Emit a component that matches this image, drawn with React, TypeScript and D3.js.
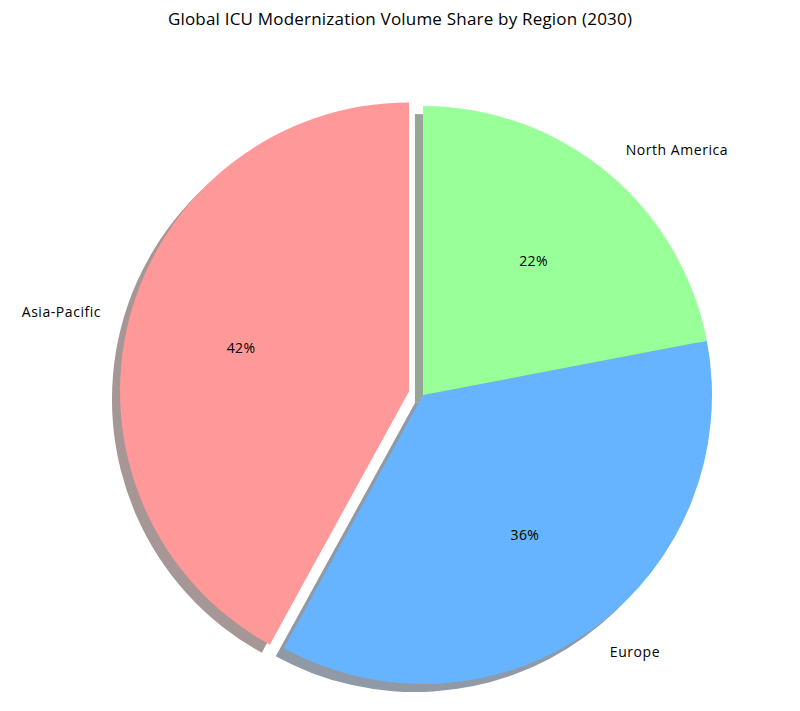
import React from "react";
import * as d3 from "d3";

const categories = ["Asia-Pacific", "Europe", "North America"];
const values = [42, 36, 22];
const colors = ["#ff9999", "#66b3ff", "#99ff99"];
const explode = [0.05, 0, 0];
const title = "Global ICU Modernization Volume Share by Region (2030)";

const W = 800;
const H = 711;
const cx = 423;
const cy = 395;
const R = 289;
const shadowOff = 0.0278 * R;
const FONT = "'Open Sans', Roboto, 'DejaVu Sans', sans-serif";

function shade(hex: string) {
  const c = d3.rgb(hex);
  return d3.rgb(c.r * 0.3, c.g * 0.3, c.b * 0.3).formatHex();
}

export default function App() {
  const pie = d3
    .pie<number>()
    .sort(null)
    .startAngle(0)
    .endAngle(-2 * Math.PI)(values);
  const arc = d3.arc<d3.PieArcDatum<number>>().innerRadius(0).outerRadius(R);

  const items = pie.map((p, i) => {
    const mid = (p.startAngle + p.endAngle) / 2;
    const ux = Math.sin(mid);
    const uy = -Math.cos(mid);
    const ox = cx + explode[i] * R * ux;
    const oy = cy + explode[i] * R * uy;
    return { p, i, ux, uy, ox, oy };
  });

  return (
    <svg width={W} height={H} style={{ display: "block", position: "absolute", left: 0, top: 0 }}>
      <rect width={W} height={H} fill="#ffffff" />
      <text x={400} y={25} textAnchor="middle" fontFamily={FONT} fontSize={17} letterSpacing={0.2} fill="#000">
        {title}
      </text>
      {items.map((d) => (
        <path
          key={"s" + d.i}
          d={arc(d.p) || ""}
          transform={`translate(${d.ox - shadowOff},${d.oy + shadowOff})`}
          fill={shade(colors[d.i])}
          fillOpacity={0.5}
        />
      ))}
      {items.map((d) => (
        <path
          key={"w" + d.i}
          d={arc(d.p) || ""}
          transform={`translate(${d.ox},${d.oy})`}
          fill={colors[d.i]}
        />
      ))}
      {items.map((d) => {
        const lx = d.ox + 1.1 * R * d.ux;
        const ly = d.oy + 1.1 * R * d.uy;
        return (
          <text
            key={"l" + d.i}
            x={lx}
            y={ly}
            dy="0.35em"
            textAnchor={lx > cx ? "start" : "end"}
            fontFamily={FONT}
            fontSize={14}
            letterSpacing={0.55}
            fill="#000"
          >
            {categories[d.i]}
          </text>
        );
      })}
      {items.map((d) => (
        <text
          key={"p" + d.i}
          x={d.ox + 0.6 * R * d.ux}
          y={d.oy + 0.6 * R * d.uy}
          dy="0.35em"
          textAnchor="middle"
          fontFamily={FONT}
          fontSize={14}
          letterSpacing={0.4}
          fill="#000"
        >
          {`${values[d.i].toFixed(0)}%`}
        </text>
      ))}
    </svg>
  );
}
